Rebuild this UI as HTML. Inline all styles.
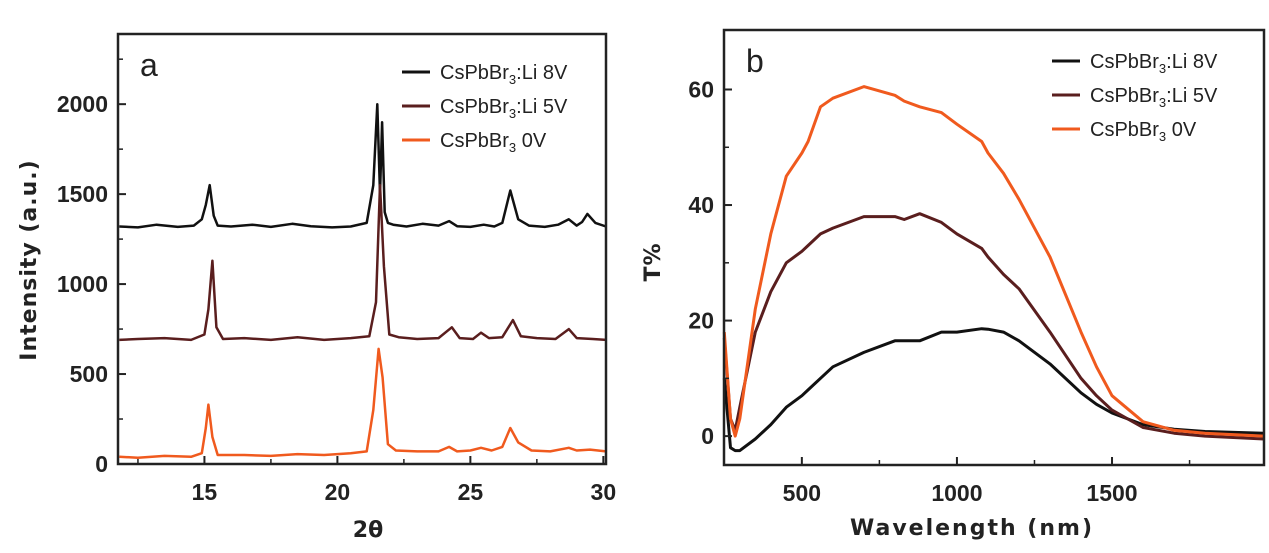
<!DOCTYPE html>
<html><head><meta charset="utf-8">
<style>
html,body{margin:0;padding:0;background:#fff;}
svg{display:block;}
.tk{font-family:"Liberation Sans",sans-serif;font-weight:bold;font-size:23px;fill:#222;}
.lg{font-family:"Liberation Sans",sans-serif;font-size:20px;fill:#222;}
.ttl{font-family:"DejaVu Sans","Liberation Sans",sans-serif;font-weight:bold;font-size:22px;fill:#222;}
</style></head><body>
<svg id="fig" width="1269" height="553" viewBox="0 0 1269 553">
<g id="pa"></g>
<g id="pb"></g>
</svg>
<script>
// ---------- Panel a data (2θ vs intensity) ----------
const xrdTicksX = [15, 20, 25, 30];
const xrdTicksY = [0, 500, 1000, 1500, 2000];
const xrdSeriesNames = ["CsPbBr3:Li 8V", "CsPbBr3:Li 5V", "CsPbBr3 0V"];
const xrd8VX = [11.8,12.5,13.2,14,14.6,14.9,15.05,15.2,15.35,15.5,16,16.8,17.5,18.3,19,19.8,20.5,21.1,21.35,21.5,21.6,21.68,21.78,21.9,22.1,22.6,23.2,23.8,24.2,24.5,25,25.5,25.9,26.2,26.5,26.8,27.2,27.8,28.3,28.7,29,29.2,29.4,29.7,30.1];
const xrd8VY = [1320,1315,1330,1318,1325,1360,1440,1550,1380,1325,1320,1330,1318,1335,1322,1315,1320,1340,1550,2000,1500,1900,1400,1340,1330,1320,1335,1325,1350,1322,1318,1330,1320,1340,1520,1360,1325,1318,1330,1360,1325,1345,1390,1340,1320];
const xrd5VX = [11.8,12.5,13.5,14.5,15,15.15,15.3,15.45,15.7,16.5,17.5,18.5,19.5,20.5,21.2,21.45,21.6,21.75,21.95,22.3,23,23.8,24.3,24.6,25.1,25.4,25.7,26.2,26.6,26.9,27.5,28.2,28.7,29,29.6,30.1];
const xrd5VY = [690,695,700,690,720,860,1130,760,695,700,690,705,690,700,710,900,1550,1100,720,705,695,700,760,700,695,730,700,705,800,710,700,695,750,700,695,690];
const xrd0VX = [11.8,12.5,13.5,14.5,14.9,15.05,15.15,15.3,15.5,16.5,17.5,18.5,19.5,20.5,21.1,21.35,21.55,21.7,21.9,22.2,23,23.8,24.2,24.5,25,25.4,25.8,26.2,26.5,26.8,27.3,28,28.7,29,29.5,30.1];
const xrd0VY = [40,35,45,40,60,200,330,150,50,50,45,55,50,60,70,300,640,480,110,75,70,70,95,70,75,90,75,95,200,120,75,70,90,75,80,70];

// ---------- Panel b data (wavelength vs T%) ----------
const tTicksX = [500, 1000, 1500];
const tTicksY = [0, 20, 40, 60];
const tWave = [250,270,285,300,350,400,450,500,520,560,600,700,800,830,880,950,1000,1080,1100,1150,1200,1300,1400,1450,1500,1600,1700,1800,1990];
const t0V = [18,3,0,3,22,35,45,49,51,57,58.5,60.5,59,58,57,56,54,51,49,45.5,41,31,18,12,7,2.5,1,0.5,0];
const t5V = [17,3,1,5,18,25,30,32,33,35,36,38,38,37.5,38.5,37,35,32.5,31,28,25.5,18,10,7,4.5,1.5,0.5,0,-0.5];
const t8V = [10,-2,-2.5,-2.5,-0.5,2,5,7,8,10,12,14.5,16.5,16.5,16.5,18,18,18.6,18.5,18,16.5,12.5,7.5,5.5,4,2,1.2,0.8,0.5];

const NS = "http://www.w3.org/2000/svg";
function mk(parent, tag, attrs, text){
  const e = document.createElementNS(NS, tag);
  for (const k in attrs) e.setAttribute(k, attrs[k]);
  if (text !== undefined) e.textContent = text;
  parent.appendChild(e);
  return e;
}
const colors = ["#111111", "#5a1e1e", "#f05a1e"];

function drawPanel(g, cfg){
  const {L,R,T,B,xmin,xmax,ymin,ymax} = cfg;
  const sx = v => L + (v - xmin) / (xmax - xmin) * (R - L);
  const sy = v => B - (v - ymin) / (ymax - ymin) * (B - T);
  cfg.series.forEach((s, i) => {
    let d = "";
    s.x.forEach((xv, j) => { d += (j ? "L" : "M") + sx(xv).toFixed(1) + " " + sy(s.y[j]).toFixed(1); });
    const p = mk(g, "path", {d:d, fill:"none", stroke:colors[i], "stroke-width":cfg.lw, "stroke-linejoin":"round"});
    
    
  });
  const fr = mk(g, "rect", {x:L, y:T, width:R-L, height:B-T, fill:"none", stroke:"#222", "stroke-width":2.5});
  
  
  cfg.xt.forEach(v => {
    mk(g, "line", {x1:sx(v), x2:sx(v), y1:B, y2:B-8, stroke:"#222", "stroke-width":2});
    const t = mk(g, "text", {x:sx(v), y:B+36, "text-anchor":"middle", class:"tk"}, String(v));
    
    
  });
  cfg.xm.forEach(v => mk(g, "line", {x1:sx(v), x2:sx(v), y1:B, y2:B-5, stroke:"#222", "stroke-width":1.5}));
  cfg.yt.forEach(v => {
    mk(g, "line", {x1:L, x2:L+8, y1:sy(v), y2:sy(v), stroke:"#222", "stroke-width":2});
    const t = mk(g, "text", {x:L-10, y:sy(v)+8, "text-anchor":"end", class:"tk"}, String(v));
    
    
  });
  cfg.ym.forEach(v => mk(g, "line", {x1:L, x2:L+5, y1:sy(v), y2:sy(v), stroke:"#222", "stroke-width":1.5}));
  const pl = mk(g, "text", {x:L+22, y:T+42, class:"lg", style:"font-size:32px"}, cfg.letter);
  
  
  xrdSeriesNames.forEach((n, i) => {
    const y = cfg.legY + i * 34;
    const lg = mk(g, "g", {});
    
    
    mk(lg, "line", {x1:cfg.legX, x2:cfg.legX+28, y1:y, y2:y, stroke:colors[i], "stroke-width":3});
    const t = mk(lg, "text", {x:cfg.legX+38, y:y+7, class:"lg"});
    const parts = n.split("3");
    mk(t, "tspan", {}, parts[0]);
    mk(t, "tspan", {style:"font-size:13px", dy:"5"}, "3");
    mk(t, "tspan", {dy:"-5"}, parts[1]);
  });
  const xt = mk(g, "text", {x:(L+R)/2 + cfg.xtOff, y:cfg.xtY, "text-anchor":"middle", class:"ttl", "letter-spacing":cfg.xls}, cfg.xtitle);
  
  
  const cy = cfg.ytCy;
  const yt = mk(g, "text", {x:cfg.ytX, y:cy, "text-anchor":"middle", class:"ttl", transform:"rotate(-90 " + cfg.ytX + " " + cy + ")", "letter-spacing":"1"}, cfg.ytitle);
  
  
}

drawPanel(document.getElementById("pa"), {
  prefix:"xrd", letter:"a", L:118, R:606, T:34, B:464, xmin:11.75, xmax:30.1, ymin:0, ymax:2390, lw:2.5,
  xt:xrdTicksX, yt:xrdTicksY, xm:[12.5,17.5,22.5,27.5], ym:[250,750,1250,1750,2250],
  series:[{key:"li-8v",x:xrd8VX,y:xrd8VY},{key:"li-5v",x:xrd5VX,y:xrd5VY},{key:"0v",x:xrd0VX,y:xrd0VY}],
  legX:402, legY:72, xtitle:"2θ", xtOff:6, xtY:537, xls:"0", ytitle:"Intensity (a.u.)", ytX:36, ytCy:260
});
drawPanel(document.getElementById("pb"), {
  prefix:"transmittance", letter:"b", L:724, R:1264, T:30, B:465, xmin:249, xmax:1990, ymin:-5, ymax:70.3, lw:3,
  xt:tTicksX, yt:tTicksY, xm:[750,1250,1750], ym:[10,30,50],
  series:[{key:"li-8v",x:tWave,y:t8V},{key:"li-5v",x:tWave,y:t5V},{key:"0v",x:tWave,y:t0V}],
  legX:1052, legY:61, xtitle:"Wavelength (nm)", xtOff:-22, xtY:535, xls:"2", ytitle:"T%", ytX:660, ytCy:262
});
</script>
</body></html>
